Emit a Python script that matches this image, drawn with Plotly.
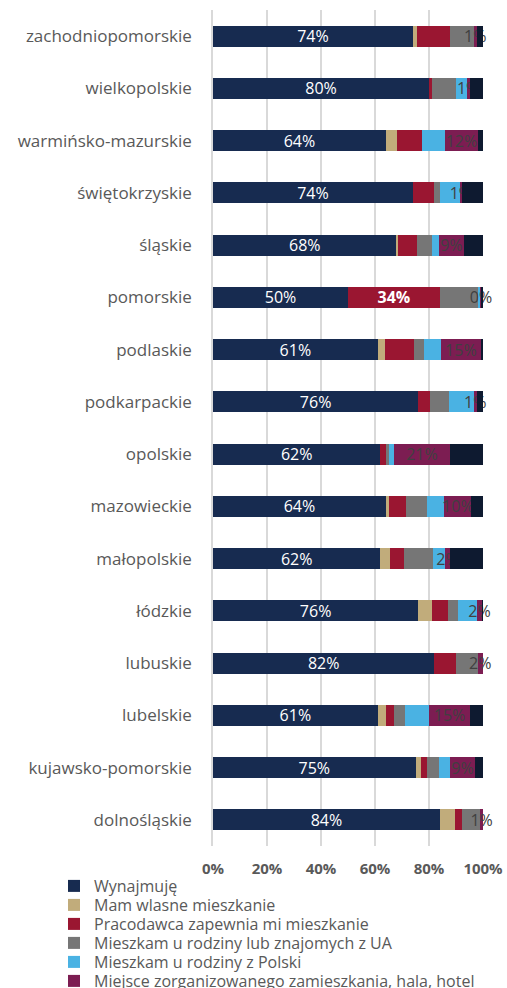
import plotly.graph_objects as go

regions = ["zachodniopomorskie", "wielkopolskie", "warmińsko-mazurskie", "świętokrzyskie",
           "śląskie", "pomorskie", "podlaskie", "podkarpackie", "opolskie", "mazowieckie",
           "małopolskie", "łódzkie", "lubuskie", "lubelskie", "kujawsko-pomorskie", "dolnośląskie"]

wynajmuje   = [74, 80, 64, 74, 68, 50, 61, 76, 62, 64, 62, 76, 82, 61, 75, 84]
wlasne      = [1.6, 0, 4, 0, 0.7, 0, 2.7, 0, 0, 1.2, 3.7, 5.2, 0, 3.2, 1.9, 5.6]
pracodawca  = [12, 1, 9.5, 7.7, 6.7, 34, 10.7, 4.3, 2.2, 6.2, 5.1, 5.7, 8, 2.7, 2.2, 2.6]
rodzina_ua  = [9, 9, 0, 2.2, 5.8, 14, 3.7, 7.2, 1, 7.8, 10.6, 4, 8, 4.3, 4.7, 6.8]
rodzina_pl  = [0, 4, 8.5, 7.4, 2.6, 1, 6.2, 9.1, 1.7, 6.5, 4.4, 6.8, 0, 8.9, 4.1, 0]
hotel       = [1, 1, 12, 1, 9, 0.4, 15, 1, 21, 10, 2, 2, 2, 15, 9, 1]
inne        = [2.4, 5, 2, 7.7, 7.2, 0.6, 0.7, 2.4, 12.1, 4.3, 12.2, 0.3, 0, 4.9, 3.1, 0]

series_names = ["Wynajmuję", "Mam wlasne mieszkanie", "Pracodawca zapewnia mi mieszkanie",
                "Mieszkam u rodziny lub znajomych z UA", "Mieszkam u rodziny z Polski",
                "Miejsce zorganizowanego zamieszkania, hala, hotel", "Inne"]
colors = ["#172B50", "#C1AC7B", "#9A1631", "#767676", "#4AB2E3", "#7C1D52", "#0E1A30"]
tick_vals = [0, 20, 40, 60, 80, 100]
tick_text = ["0%", "20%", "40%", "60%", "80%", "100%"]

all_series = [wynajmuje, wlasne, pracodawca, rodzina_ua, rodzina_pl, hotel, inne]

FONT = "Open Sans"
W, H = 507, 988
ML, MR, MT, MB = 213, 24, 10, 142
plot_h = H - MT - MB
plot_w = W - ML - MR

fig = go.Figure()
legend_ids = ["legend", "legend2", "legend3", "legend4", "legend5", "legend6", "legend7"]
for i, (name, vals, col) in enumerate(zip(series_names, all_series, colors)):
    kw = {}
    if i == 0:
        kw = dict(text=[f"{v:.0f}%" for v in vals],
                  textfont=dict(color="white", size=16, family=FONT))
    elif i == 2:
        txt = ["<b>%.0f%%</b>" % v if v > 30 else "" for v in vals]
        kw = dict(text=txt, textfont=dict(color="white", size=16, family=FONT))
    elif i == 5:
        kw = dict(text=[f"{v:.0f}%" for v in vals],
                  textfont=dict(color="#404040", size=16, family=FONT))
    if kw:
        kw.update(textposition="inside", insidetextanchor="middle", textangle=0,
                  constraintext="none")
    fig.add_trace(go.Bar(
        y=regions, x=vals, name=name, orientation="h",
        marker=dict(color=col, line=dict(width=0)),
        cliponaxis=False, legend=legend_ids[i],
        showlegend=(i < 6),
        hoverinfo="x+y+name",
        **kw))

# legends: one per entry so the spacing can match the reference
leg_x = (54 - ML) / plot_w
legends = {}
for i, lid in enumerate(legend_ids):
    yc = 886 + 19 * i
    legends[lid] = dict(x=leg_x, xanchor="left", y=(H - MB - yc) / plot_h, yanchor="middle",
                        font=dict(size=16, color="#595959", family=FONT),
                        bgcolor="rgba(0,0,0,0)", borderwidth=0)

fig.update_layout(
    barmode="stack",
    bargap=0.6,
    width=W, height=H,
    margin=dict(l=ML, r=MR, t=MT, b=MB, autoexpand=False),
    paper_bgcolor="white", plot_bgcolor="white",
    font=dict(family=FONT, color="#595959"),
    xaxis=dict(range=[0, 100], tickvals=tick_vals, ticktext=tick_text,
               showgrid=True, gridcolor="#D9D9D9", gridwidth=1.5,
               zeroline=False, showline=False, ticklabelstandoff=12,
               tickfont=dict(size=15, color="#595959", family=FONT, weight="bold")),
    yaxis=dict(autorange="reversed", showline=True, linecolor="#D9D9D9", linewidth=1.5,
               ticks="", ticklabelstandoff=16,
               tickfont=dict(size=17, color="#595959", family=FONT)),
    showlegend=True,
    **legends,
)

fig.write_html("out.html", config={"displayModeBar": False},
               post_script="document.body.style.margin='0';")
